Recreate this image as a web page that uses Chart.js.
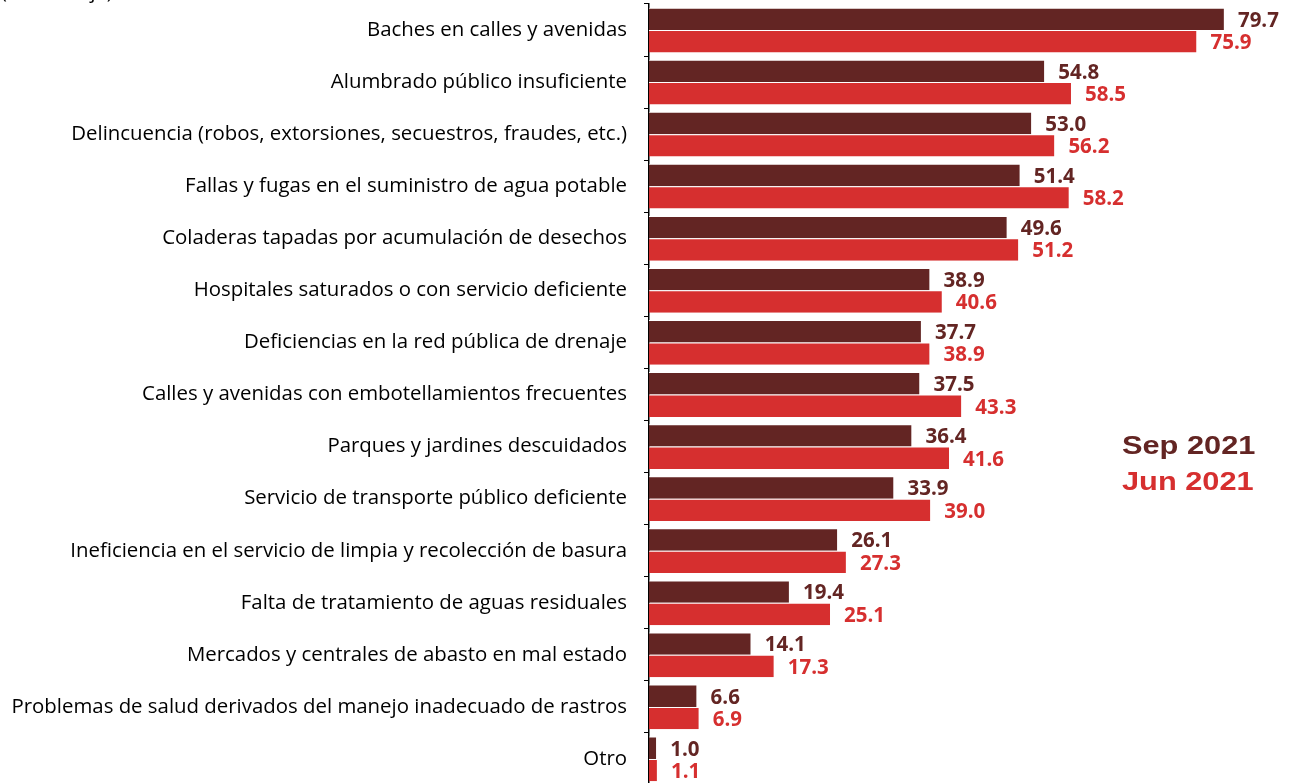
<!DOCTYPE html>
<html>
<head>
<meta charset="utf-8">
<script src="https://cdn.jsdelivr.net/npm/chart.js@4/dist/chart.umd.min.js"></script>
<style>
  html, body { margin: 0; padding: 0; background: #fff; overflow: hidden; }
  #wrap { position: relative; width: 1291px; height: 783px; overflow: hidden; }
  #unit { position: absolute; left: 1px; top: -23px; font: 20px "Open Sans", sans-serif; color: #000; }
  canvas { position: absolute; left: 0; top: 0; }
</style>
</head>
<body>
<div id="wrap">
  <canvas id="problemChart" width="1291" height="790"></canvas>
  <div id="unit">(Porcentaje)</div>
</div>
<script>
const categories = [
  'Baches en calles y avenidas',
  'Alumbrado público insuficiente',
  'Delincuencia (robos, extorsiones, secuestros, fraudes, etc.)',
  'Fallas y fugas en el suministro de agua potable',
  'Coladeras tapadas por acumulación de desechos',
  'Hospitales saturados o con servicio deficiente',
  'Deficiencias en la red pública de drenaje',
  'Calles y avenidas con embotellamientos frecuentes',
  'Parques y jardines descuidados',
  'Servicio de transporte público deficiente',
  'Ineficiencia en el servicio de limpia y recolección de basura',
  'Falta de tratamiento de aguas residuales',
  'Mercados y centrales de abasto en mal estado',
  'Problemas de salud derivados del manejo inadecuado de rastros',
  'Otro'
];
const sep2021 = [79.7, 54.8, 53.0, 51.4, 49.6, 38.9, 37.7, 37.5, 36.4, 33.9, 26.1, 19.4, 14.1, 6.6, 1.0];
const jun2021 = [75.9, 58.5, 56.2, 58.2, 51.2, 40.6, 38.9, 43.3, 41.6, 39.0, 27.3, 25.1, 17.3, 6.9, 1.1];
const seriesNames = ['Sep 2021', 'Jun 2021'];
const colors = ['#632523', '#d62f2f'];

// value labels at the end of each bar
const valueLabels = {
  id: 'valueLabels',
  afterDatasetsDraw(chart) {
    const { ctx } = chart;
    ctx.save();
    ctx.font = 'bold 20.5px "Open Sans", sans-serif';
    ctx.textBaseline = 'middle';
    ctx.textAlign = 'left';
    chart.data.datasets.forEach((ds, i) => {
      const meta = chart.getDatasetMeta(i);
      ctx.fillStyle = colors[i];
      meta.data.forEach((bar, j) => {
        ctx.fillText(ds.data[j].toFixed(1), bar.x + 14, bar.y + 2);
      });
    });
    ctx.restore();
  }
};

// legend text on the right (the original is a bit stretched sideways)
const sideLegend = {
  id: 'sideLegend',
  afterDraw(chart) {
    const { ctx } = chart;
    ctx.save();
    ctx.font = 'bold 25px "Liberation Sans", Arial, sans-serif';
    ctx.textBaseline = 'middle';
    ctx.textAlign = 'left';
    seriesNames.forEach((name, i) => {
      ctx.save();
      ctx.translate(1122, 447 + i * 36);
      ctx.scale(1.23, 1);
      ctx.fillStyle = colors[i];
      ctx.fillText(name, 0, 0);
      ctx.restore();
    });
    ctx.restore();
  }
};

const ctx = document.getElementById('problemChart').getContext('2d');
new Chart(ctx, {
  type: 'bar',
  data: {
    labels: categories,
    datasets: seriesNames.map((name, i) => ({
      label: name,
      data: i === 0 ? sep2021 : jun2021,
      backgroundColor: colors[i],
      borderColor: '#ffffff',
      borderWidth: { top: 1, bottom: 0, left: 0, right: 0 },
      borderSkipped: 'left',
      categoryPercentage: 0.86,
      barPercentage: 1.0
    }))
  },
  plugins: [valueLabels, sideLegend],
  options: {
    indexAxis: 'y',
    responsive: false,
    animation: false,
    layout: { padding: { top: 4, bottom: 5, left: 0, right: 0 } },
    plugins: {
      legend: { display: false },
      tooltip: { enabled: false }
    },
    scales: {
      x: {
        display: false,
        min: 0,
        max: 89
      },
      y: {
        afterFit(scale) {
          // fixed label column, no extra vertical padding from the tick labels
          scale.width = 649;
          scale.paddingTop = 0;
          scale.paddingBottom = 0;
        },
        grid: {
          offset: true,
          drawOnChartArea: false,
          color: '#000',
          tickLength: 5,
          lineWidth: 1
        },
        border: { display: true, color: '#000', width: 1.5 },
        ticks: {
          color: '#000',
          padding: 17,
          font: { family: '"Open Sans", sans-serif', size: 20.4 }
        }
      }
    }
  }
});
</script>
</body>
</html>
